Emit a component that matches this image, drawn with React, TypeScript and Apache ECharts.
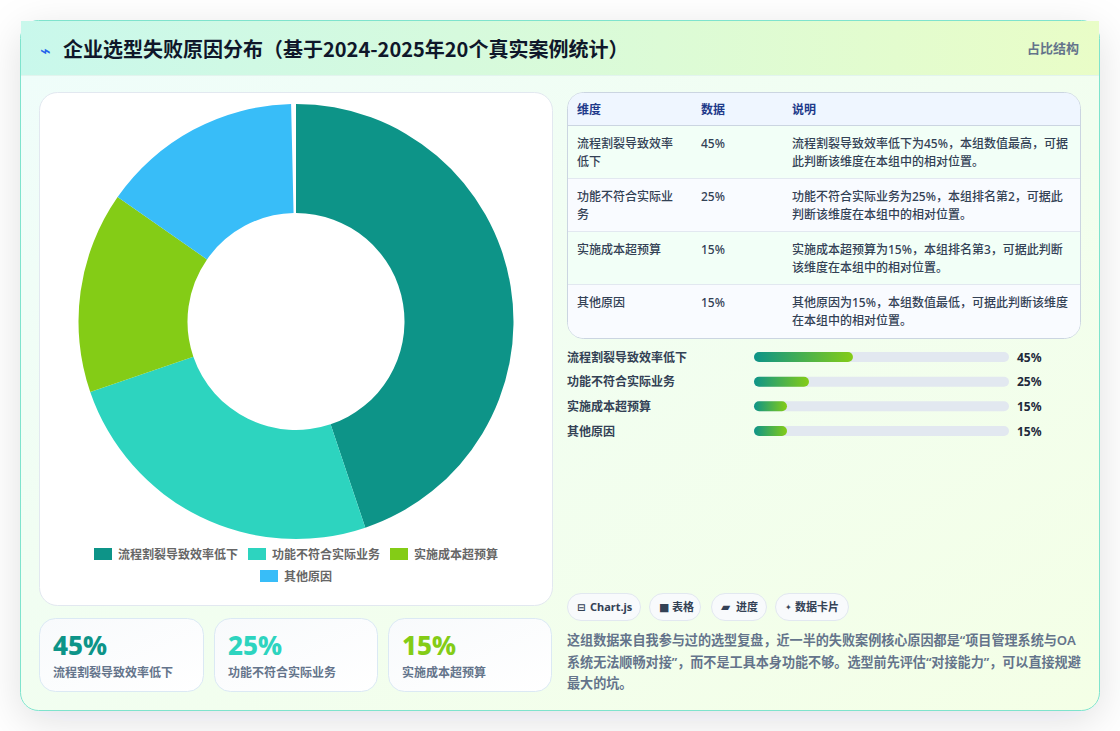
import React, { useEffect, useRef } from 'react'
import * as echarts from 'echarts'

const FONT = '"Noto Sans", "Noto Sans CJK SC", sans-serif'
const TITLE_FONT = '"Noto Sans CJK SC", "Noto Sans", sans-serif'
const SYMBOL_FONT = '"DejaVu Sans", sans-serif'

const categories = ['流程割裂导致效率低下', '功能不符合实际业务', '实施成本超预算', '其他原因']
const values = [45, 25, 15, 15]
const colors = ['#0d9488', '#2dd4bf', '#84cc16', '#38bdf8']
// the reference leaves a hair of empty ring before 12 o'clock
const ringGap = 0.36
// progress tracks are not full at 100 in the reference
const barAxisMax = 116

const tableHead = ['维度', '数据', '说明']
const tableDim = [['流程割裂导致效率', '低下'], ['功能不符合实际业', '务'], ['实施成本超预算'], ['其他原因']]
const tableVal = ['45%', '25%', '15%', '15%']
const tableNote = [
  ['流程割裂导致效率低下为45%，本组数值最高，可据', '此判断该维度在本组中的相对位置。'],
  ['功能不符合实际业务为25%，本组排名第2，可据此', '判断该维度在本组中的相对位置。'],
  ['实施成本超预算为15%，本组排名第3，可据此判断', '该维度在本组中的相对位置。'],
  ['其他原因为15%，本组数值最低，可据此判断该维度', '在本组中的相对位置。'],
]
const chipIcons = ['⊟', '■', '▰', '✦']
const chipLabels = ['Chart.js', '表格', '进度', '数据卡片']
const paragraph = [
  '这组数据来自我参与过的选型复盘，近一半的失败案例核心原因都是“项目管理系统与OA',
  '系统无法顺畅对接”，而不是工具本身功能不够。选型前先评估“对接能力”，可以直接规避',
  '最大的坑。',
]

const card = (x: number, y: number, w: number, h: number, r: number, fill: any, stroke: string, extra: any = {}) => ({
  type: 'rect',
  shape: { x: x + 0.5, y: y + 0.5, width: w - 1, height: h - 1, r },
  style: { fill, stroke, lineWidth: 1, ...extra },
  silent: true,
})

const band = (y: number, height: number, fill: any, r: any = 0) => ({
  type: 'rect',
  shape: { x: 568, y, width: 512, height, r },
  style: { fill },
  silent: true,
})

const rule = (y: number, stroke: string) => ({
  type: 'line',
  shape: { x1: 568, y1: y + 0.5, x2: 1080, y2: y + 0.5 },
  style: { stroke, lineWidth: 1 },
  silent: true,
})

const text = (x: number, y: number, t: string, size: number, color: string, weight: any = 500, extra: any = {}) => ({
  type: 'text',
  x,
  y,
  silent: true,
  style: { text: t, fontSize: size, fill: color, fontWeight: weight, fontFamily: FONT, textVerticalAlign: 'middle', ...extra },
})

const grad = (x2: number, y2: number, a: string, b: string) =>
  new echarts.graphic.LinearGradient(0, 0, x2, y2, [
    { offset: 0, color: a },
    { offset: 1, color: b },
  ])

const App = () => {
  const chartRef = useRef<HTMLDivElement>(null)

  useEffect(() => {
    if (!chartRef.current) return
    document.body.style.margin = '0'
    const chart = echarts.init(chartRef.current, null, { renderer: 'svg' })

    const backdrop: any[] = [
      card(20, 20, 1080, 691, 18, grad(1, 1, '#effdfb', '#f4ffe6'), '#7fe3cd', {
        shadowBlur: 40,
        shadowColor: 'rgba(15,23,42,0.12)',
        shadowOffsetY: 10,
      }),
      {
        type: 'rect',
        shape: { x: 21, y: 21, width: 1078, height: 55 },
        style: { fill: grad(1, 0, '#c9f8ec', '#e9fdc7') },
        silent: true,
      },
      { type: 'line', shape: { x1: 21, y1: 75.5, x2: 1099, y2: 75.5 }, style: { stroke: '#e2f4ee', lineWidth: 1 }, silent: true },
      card(39, 92, 514, 514, 18, '#ffffff', '#e2e8f0'),
      card(567, 92, 514, 247, 16, '#f9fbff', '#cbd5e1'),
    ]

    // table
    const rowTops = [126, 179, 232, 285]
    const table: any[] = [
      band(93, 33, '#eff6ff', [15, 15, 0, 0]),
      band(126, 53, '#f2fff7'),
      band(179, 53, '#f9fbff'),
      band(232, 53, '#f2fff7'),
      band(285, 53, '#f9fbff', [0, 0, 15, 15]),
      rule(125, '#cbd5e1'),
      rule(178, '#e2e8f0'),
      rule(231, '#e2e8f0'),
      rule(284, '#e2e8f0'),
      text(577, 109.5, tableHead[0], 12, '#1e3a8a', 600),
      text(701, 109.5, tableHead[1], 12, '#1e3a8a', 600),
      text(792, 109.5, tableHead[2], 12, '#1e3a8a', 600),
    ]
    rowTops.forEach((top, i) => {
      tableDim[i].forEach((line, j) => table.push(text(577, top + 17.5 + j * 17.5, line, 12, '#334155')))
      table.push(text(701, top + 17.5, tableVal[i], 12, '#334155'))
      tableNote[i].forEach((line, j) => table.push(text(792, top + 17.5 + j * 17.5, line, 12, '#334155')))
    })

    // stat cards
    const statX = [39, 214, 388]
    const stats: any[] = []
    statX.forEach((x, i) => {
      stats.push(card(x, 618, i === 0 ? 165 : 164, 74, 16, grad(1, 1, '#f8fafc', '#ffffff'), '#dbe9f4'))
      stats.push(text(x + 14, 645, tableVal[i], 26, colors[i], 800))
      stats.push(text(x + 14, 672, categories[i], 12, '#64748b', 600))
    })

    // tag row
    const chipBox = [
      [567, 74],
      [649, 52],
      [711, 56],
      [775, 74],
    ]
    const chipIconX = [577, 659, 721, 785]
    const chipIconSize = [10, 11, 12, 8]
    const chipLabelX = [590, 672, 736, 795]
    const tags: any[] = []
    chipBox.forEach(([x, w], i) => {
      tags.push(card(x, 593, w, 28, 14, '#f8fafc', '#e2e8f0'))
      tags.push(text(chipIconX[i], 607, chipIcons[i], chipIconSize[i], '#334155', 700, { fontFamily: SYMBOL_FONT }))
      tags.push(text(chipLabelX[i], 606.5, chipLabels[i], 11, '#334155', 700))
    })

    const lines: any[] = paragraph.map((line, i) => text(567, 640 + i * 21.5, line, 13.1, '#64748b', 600))

    const header: any[] = [
      text(40, 50, '⌁', 18, '#2563eb', 700, { fontFamily: SYMBOL_FONT }),
      text(63, 48, '企业选型失败原因分布（基于2024-2025年20个真实案例统计）', 20, '#0f172a', 700, { fontFamily: TITLE_FONT }),
      text(1079, 47.5, '占比结构', 13, '#64748b', 600, { textAlign: 'right' }),
    ]

    const legendText = { fontSize: 12, color: '#666666', fontFamily: FONT, fontWeight: 600, padding: [0, 0, 0, 1] }

    chart.setOption({
      animation: false,
      legend: [
        {
          data: categories.slice(0, 3),
          left: 94,
          top: 548,
          itemWidth: 18,
          itemHeight: 12,
          itemGap: 10,
          padding: 0,
          icon: 'rect',
          textStyle: legendText,
        },
        {
          data: categories.slice(3),
          left: 260,
          top: 570,
          itemWidth: 18,
          itemHeight: 12,
          padding: 0,
          icon: 'rect',
          textStyle: legendText,
        },
      ],
      grid: { left: 754, top: 344.67, width: 255, height: 98.67 },
      xAxis: { type: 'value', min: 0, max: barAxisMax, show: false },
      yAxis: [
        {
          type: 'category',
          inverse: true,
          data: categories,
          axisLine: { show: false },
          axisTick: { show: false },
          axisLabel: { margin: 187, align: 'left', fontSize: 12, color: '#334155', fontWeight: 600, fontFamily: FONT },
        },
        {
          type: 'category',
          inverse: true,
          position: 'right',
          data: values.map((v) => v + '%'),
          axisLine: { show: false },
          axisTick: { show: false },
          axisLabel: { margin: 8, align: 'left', fontSize: 12, color: '#1e293b', fontWeight: 700, fontFamily: FONT },
        },
      ],
      graphic: { elements: [...backdrop, ...table, ...stats, ...tags, ...lines, ...header] },
      series: [
        {
          type: 'pie',
          z: 10,
          silent: true,
          center: [296, 321.5],
          radius: [108.5, 217.5],
          startAngle: 90,
          label: { show: false },
          labelLine: { show: false },
          data: [
            ...categories.map((name, i) => ({ name, value: values[i], itemStyle: { color: colors[i] } })),
            { name: 'gap', value: ringGap, itemStyle: { color: 'rgba(255,255,255,0)' } },
          ],
        },
        {
          type: 'bar',
          z: 10,
          silent: true,
          barWidth: 10,
          showBackground: true,
          backgroundStyle: { color: '#e2e8f0', borderRadius: 5 },
          itemStyle: { borderRadius: 5, color: grad(1, 0, '#0d9488', '#84cc16') },
          data: values,
        },
      ],
    })

    return () => {
      chart.dispose()
    }
  }, [])

  return <div ref={chartRef} style={{ width: '1120px', height: '731px' }} />
}

export default App
